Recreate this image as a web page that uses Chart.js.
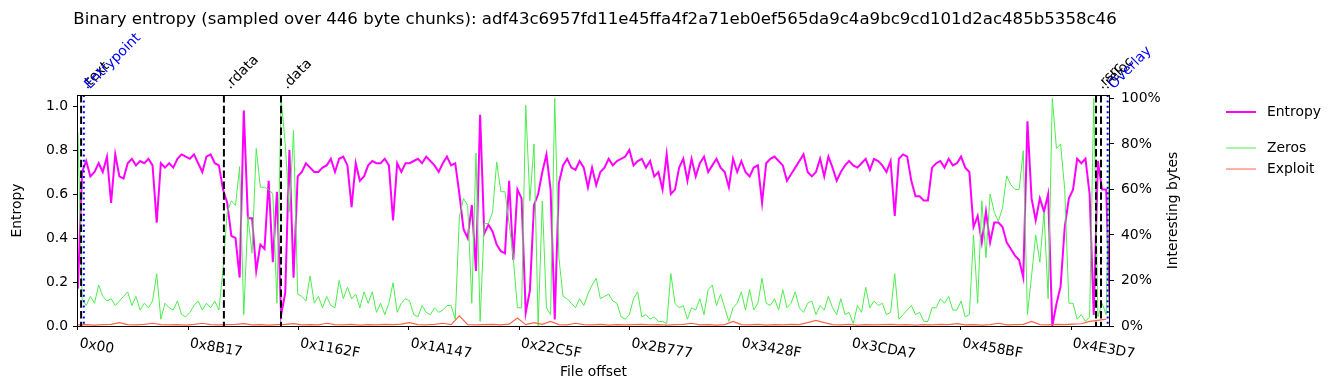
<!DOCTYPE html>
<html>
<head>
<meta charset="utf-8">
<script src="https://cdn.jsdelivr.net/npm/chart.js@4.4.1/dist/chart.umd.min.js"></script>
<style>
  html, body { margin: 0; padding: 0; background: #fff; }
  canvas { display: block; }
</style>
</head>
<body>
<canvas id="chart" width="1335" height="390"></canvas>
<script>
const SAMPLE_HASH = "adf43c6957fd11e45ffa4f2a71eb0ef565da9c4a9bc9cd101d2ac485b5358c46";
const CHUNK = 446;
const STEP = 3 * CHUNK;          // entropy / zeros: one point every 3 chunks
const EXPLOIT_STEP = 6 * CHUNK;  // exploit: one point every 6 chunks

const TICK_LABELS = ["0x00", "0x8B17", "0x1162F", "0x1A147", "0x22C5F",
  "0x2B777", "0x3428F", "0x3CDA7", "0x458BF", "0x4E3D7"];

const ENTROPY = [
  0.17, 0.70, 0.75, 0.68, 0.70, 0.74, 0.70, 0.77, 0.56, 0.78,
  0.68, 0.67, 0.74, 0.76, 0.73, 0.75, 0.74, 0.76, 0.73, 0.47,
  0.74, 0.72, 0.74, 0.72, 0.76, 0.78, 0.77, 0.76, 0.78, 0.74,
  0.70, 0.77, 0.78, 0.74, 0.73, 0.62, 0.56, 0.41, 0.40, 0.22,
  0.98, 0.49, 0.49, 0.25, 0.37, 0.35, 0.66, 0.29, 0.61, 0.05,
  0.15, 0.80, 0.22, 0.68, 0.70, 0.74, 0.72, 0.70, 0.70, 0.72,
  0.73, 0.76, 0.70, 0.76, 0.77, 0.73, 0.54, 0.74, 0.66, 0.68,
  0.73, 0.75, 0.74, 0.74, 0.76, 0.73, 0.48, 0.74, 0.70, 0.74,
  0.74, 0.75, 0.76, 0.74, 0.77, 0.75, 0.73, 0.70, 0.74, 0.77,
  0.73, 0.74, 0.60, 0.44, 0.40, 0.55, 0.25, 0.96, 0.42, 0.46,
  0.43, 0.37, 0.34, 0.33, 0.66, 0.30, 0.62, 0.58, 0.06, 0.16,
  0.55, 0.60, 0.70, 0.78, 0.62, 0.03, 0.65, 0.73, 0.76, 0.72,
  0.71, 0.75, 0.72, 0.63, 0.72, 0.64, 0.70, 0.72, 0.76, 0.73,
  0.75, 0.76, 0.77, 0.80, 0.73, 0.75, 0.76, 0.72, 0.75, 0.68,
  0.70, 0.62, 0.78, 0.60, 0.62, 0.72, 0.76, 0.66, 0.76, 0.68,
  0.74, 0.77, 0.70, 0.73, 0.76, 0.72, 0.70, 0.63, 0.76, 0.70,
  0.75, 0.70, 0.68, 0.72, 0.73, 0.56, 0.74, 0.76, 0.77, 0.75,
  0.73, 0.66, 0.69, 0.72, 0.75, 0.78, 0.70, 0.68, 0.70, 0.76,
  0.68, 0.77, 0.72, 0.66, 0.70, 0.73, 0.75, 0.73, 0.72, 0.74,
  0.76, 0.71, 0.76, 0.75, 0.73, 0.70, 0.75, 0.50, 0.76, 0.78,
  0.77, 0.66, 0.59, 0.59, 0.57, 0.57, 0.72, 0.74, 0.75, 0.72,
  0.76, 0.73, 0.74, 0.77, 0.72, 0.70, 0.45, 0.50, 0.38, 0.52,
  0.38, 0.47, 0.47, 0.45, 0.38, 0.35, 0.32, 0.30, 0.22, 0.93,
  0.58, 0.48, 0.58, 0.52, 0.60, 0.00, 0.10, 0.18, 0.45, 0.58,
  0.62, 0.76, 0.74, 0.76, 0.60, 0.05, 0.75, 0.62, 0.62, 0.00
];

const ZEROS = [
  0.85, 0.12, 0.09, 0.13, 0.10, 0.18, 0.13, 0.11, 0.12, 0.09,
  0.11, 0.13, 0.15, 0.09, 0.13, 0.07, 0.10, 0.08, 0.11, 0.23,
  0.03, 0.10, 0.08, 0.07, 0.11, 0.05, 0.04, 0.06, 0.09, 0.11,
  0.07, 0.10, 0.08, 0.11, 0.07, 0.25, 0.50, 0.55, 0.53, 0.70,
  0.05, 0.48, 0.32, 0.78, 0.61, 0.61, 0.60, 0.58, 0.10, 1.00,
  0.80, 0.50, 0.86, 0.14, 0.13, 0.11, 0.22, 0.10, 0.13, 0.08,
  0.13, 0.09, 0.08, 0.20, 0.12, 0.17, 0.12, 0.14, 0.08, 0.15,
  0.10, 0.15, 0.06, 0.10, 0.05, 0.10, 0.19, 0.06, 0.10, 0.12,
  0.11, 0.05, 0.04, 0.09, 0.06, 0.05, 0.08, 0.06, 0.07, 0.09,
  0.09, 0.03, 0.48, 0.56, 0.53, 0.10, 0.76, 0.02, 0.45, 0.45,
  0.50, 0.72, 0.59, 0.59, 0.45, 0.30, 0.08, 0.08, 0.97, 0.55,
  0.80, 0.00, 0.55, 0.08, 0.05, 1.00, 0.30, 0.13, 0.12, 0.10,
  0.08, 0.12, 0.09, 0.14, 0.18, 0.21, 0.12, 0.13, 0.14, 0.11,
  0.10, 0.04, 0.03, 0.05, 0.12, 0.15, 0.04, 0.05, 0.03, 0.04,
  0.02, 0.02, 0.01, 0.23, 0.10, 0.08, 0.09, 0.03, 0.08, 0.07,
  0.12, 0.05, 0.16, 0.18, 0.09, 0.14, 0.08, 0.02, 0.08, 0.10,
  0.15, 0.07, 0.16, 0.07, 0.10, 0.21, 0.10, 0.09, 0.12, 0.07,
  0.16, 0.08, 0.10, 0.15, 0.08, 0.06, 0.10, 0.11, 0.05, 0.09,
  0.07, 0.13, 0.08, 0.05, 0.12, 0.05, 0.06, 0.01, 0.09, 0.06,
  0.17, 0.08, 0.11, 0.09, 0.10, 0.05, 0.06, 0.23, 0.03, 0.05,
  0.07, 0.09, 0.05, 0.06, 0.02, 0.02, 0.08, 0.08, 0.12, 0.10,
  0.13, 0.07, 0.07, 0.11, 0.04, 0.05, 0.40, 0.10, 0.55, 0.30,
  0.58, 0.50, 0.46, 0.52, 0.66, 0.62, 0.60, 0.60, 0.77, 0.05,
  0.22, 0.40, 0.28, 0.50, 0.12, 1.00, 0.78, 0.80, 0.60, 0.10,
  0.10, 0.03, 0.05, 0.02, 0.04, 1.00, 0.04, 0.10, 0.05, 1.00
];

const EXPLOIT = [
  0.005, 0.006, 0.004, 0.006, 0.007, 0.015, 0.006, 0.005, 0.007, 0.012,
  0.006, 0.005, 0.006, 0.004, 0.007, 0.012, 0.006, 0.005, 0.006, 0.007,
  0.010, 0.005, 0.006, 0.004, 0.006, 0.007, 0.010, 0.005, 0.006, 0.005,
  0.012, 0.006, 0.005, 0.007, 0.004, 0.006, 0.005, 0.007, 0.006, 0.008,
  0.015, 0.006, 0.005, 0.007, 0.012, 0.006, 0.045, 0.006, 0.005, 0.006,
  0.007, 0.005, 0.008, 0.035, 0.006, 0.015, 0.007, 0.020, 0.006, 0.005,
  0.012, 0.006, 0.005, 0.007, 0.004, 0.006, 0.005, 0.006, 0.007, 0.005,
  0.006, 0.004, 0.006, 0.007, 0.012, 0.005, 0.006, 0.004, 0.006, 0.020,
  0.006, 0.005, 0.007, 0.004, 0.006, 0.005, 0.007, 0.006, 0.015, 0.025,
  0.015, 0.006, 0.005, 0.007, 0.004, 0.006, 0.005, 0.006, 0.007, 0.005,
  0.006, 0.004, 0.006, 0.005, 0.007, 0.006, 0.010, 0.005, 0.006, 0.004,
  0.006, 0.012, 0.005, 0.006, 0.007, 0.020, 0.006, 0.005, 0.007, 0.006,
  0.008, 0.010, 0.020, 0.025, 0.030
];

const SECTION_NAMES = [".text", ".rdata", ".data", ".rsrc", ".reloc"];
const SECTION_STARTS = [0x400, 0xB800, 0x10000, 328540, 330150];
const ENTRYPOINT = 1900;
const OVERLAY = 332300;

const FONT = "DejaVu Sans";
const TICK_VALUES = TICK_LABELS.map((t) => parseInt(t, 16));

const rotText = (ctx, s, x, y, deg, color) => {
  ctx.save();
  ctx.translate(x, y);
  ctx.rotate((deg * Math.PI) / 180);
  ctx.fillStyle = color;
  ctx.fillText(s, 0, 0);
  ctx.restore();
};

const vline = (ctx, area, px, color, dash) => {
  ctx.save();
  ctx.strokeStyle = color;
  ctx.lineWidth = 2;
  ctx.setLineDash(dash);
  ctx.beginPath();
  ctx.moveTo(px, area.top);
  ctx.lineTo(px, area.bottom);
  ctx.stroke();
  ctx.restore();
};

const decorations = {
  id: "decorations",
  afterDatasetsDraw(chart) {
    const { ctx, chartArea: area, scales: { x } } = chart;
    SECTION_STARTS.forEach((o) => vline(ctx, area, x.getPixelForValue(o), "#000", [7.5, 3.3]));
    vline(ctx, area, x.getPixelForValue(ENTRYPOINT), "#0000ff", [2, 3.4]);
    vline(ctx, area, x.getPixelForValue(OVERLAY), "#0000ff", [2, 3.4]);
  },
  afterDraw(chart) {
    const { ctx, chartArea: area, scales: { x } } = chart;
    ctx.save();

    // frame
    ctx.strokeStyle = "#000";
    ctx.lineWidth = 1;
    ctx.strokeRect(area.left + 0.5, area.top + 0.5, area.right - area.left - 1, area.bottom - area.top);

    // title
    ctx.font = `16.6px "${FONT}"`;
    ctx.fillStyle = "#000";
    ctx.textAlign = "center";
    ctx.textBaseline = "alphabetic";
    ctx.fillText(`Binary entropy (sampled over ${CHUNK} byte chunks): ${SAMPLE_HASH}`,
      (area.left + area.right) / 2 + 1.5, 24);

    // section labels above the plot
    ctx.font = `13.9px "${FONT}"`;
    ctx.textAlign = "left";
    SECTION_NAMES.forEach((n, i) =>
      rotText(ctx, n, x.getPixelForValue(SECTION_STARTS[i]) + 6, 89.5, -45, "#000"));
    rotText(ctx, "Entrypoint", x.getPixelForValue(ENTRYPOINT) + 6, 89.5, -45, "#0000ff");
    rotText(ctx, "Overlay", x.getPixelForValue(OVERLAY) + 6, 89.5, -45, "#0000ff");

    // x tick labels, slanted
    TICK_VALUES.forEach((v, i) =>
      rotText(ctx, TICK_LABELS[i], x.getPixelForValue(v) + 1, 347, 10, "#000"));

    // axis titles
    ctx.textAlign = "center";
    ctx.textBaseline = "middle";
    ctx.fillText("File offset", (area.left + area.right) / 2, 372);
    const midY = (area.top + area.bottom) / 2;
    rotText(ctx, "Entropy", 17.5, midY, -90, "#000");
    rotText(ctx, "Interesting bytes", 1173, midY, -90, "#000");

    // legend
    const legend = [
      { label: "Entropy", color: "#ff00ff", width: 2, y: 112 },
      { label: "Zeros", color: "#4ded4d", width: 1, y: 148 },
      { label: "Exploit", color: "#ff6347", width: 1, y: 169 },
    ];
    ctx.textAlign = "left";
    legend.forEach((it) => {
      ctx.strokeStyle = it.color;
      ctx.lineWidth = it.width;
      ctx.beginPath();
      ctx.moveTo(1226, it.y);
      ctx.lineTo(1256, it.y);
      ctx.stroke();
      ctx.fillStyle = "#000";
      ctx.fillText(it.label, 1267, it.y);
    });
    ctx.restore();
  },
};

const tickFont = { family: FONT, size: 13.9 };

new Chart(document.getElementById("chart"), {
  type: "line",
  data: {
    datasets: [
      {
        label: "Entropy",
        data: ENTROPY.map((v, i) => ({ x: i * STEP, y: v })),
        borderColor: "#ff00ff",
        borderWidth: 2,
        yAxisID: "y",
        order: 2,
      },
      {
        label: "Zeros",
        data: ZEROS.map((v, i) => ({ x: i * STEP, y: v })),
        borderColor: "#4ded4d",
        borderWidth: 1,
        yAxisID: "y2",
        order: 1,
      },
      {
        label: "Exploit",
        data: EXPLOIT.map((v, i) => ({ x: i * EXPLOIT_STEP, y: v })),
        borderColor: "#ff6347",
        borderWidth: 1.2,
        yAxisID: "y2",
        order: 0,
      },
    ],
  },
  options: {
    responsive: false,
    animation: false,
    events: [],
    elements: { point: { radius: 0 }, line: { tension: 0 } },
    layout: { padding: { top: 95, left: 0, right: 0, bottom: 0 } },
    plugins: { legend: { display: false }, title: { display: false }, tooltip: { enabled: false } },
    scales: {
      x: {
        type: "linear",
        min: -300,
        max: 333050,
        afterBuildTicks: (s) => { s.ticks = TICK_VALUES.map((v) => ({ value: v })); },
        afterFit: (s) => { s.height = 64; },
        ticks: { display: false },
        border: { display: false },
        grid: { drawOnChartArea: false, drawTicks: true, tickLength: 4, tickColor: "#000" },
      },
      y: {
        position: "left",
        min: 0,
        max: 1.05,
        afterBuildTicks: (s) => { s.ticks = [0, 0.2, 0.4, 0.6, 0.8, 1.0].map((v) => ({ value: v })); },
        afterFit: (s) => { s.width = 77; },
        ticks: { font: tickFont, color: "#000", padding: 5, callback: (v) => v.toFixed(1) },
        border: { display: false },
        grid: { drawOnChartArea: false, drawTicks: true, tickLength: 4, tickColor: "#000" },
      },
      y2: {
        position: "right",
        min: 0,
        max: 1.015,
        afterBuildTicks: (s) => { s.ticks = [0, 0.2, 0.4, 0.6, 0.8, 1.0].map((v) => ({ value: v })); },
        afterFit: (s) => { s.width = 225; },
        ticks: { font: tickFont, color: "#000", padding: 7, callback: (v) => Math.round(v * 100) + "%" },
        border: { display: false },
        grid: { drawOnChartArea: false, drawTicks: true, tickLength: 4, tickColor: "#000" },
      },
    },
  },
  plugins: [decorations],
});
</script>
</body>
</html>
